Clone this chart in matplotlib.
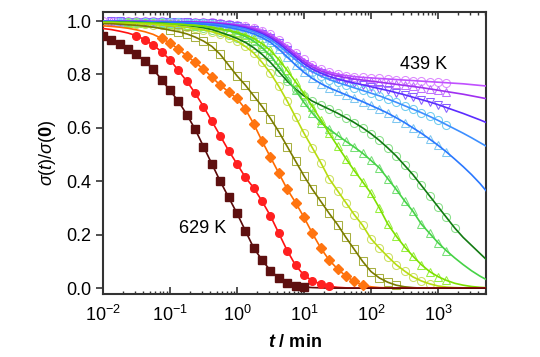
import matplotlib.pyplot as plt
import numpy as np
from matplotlib.ticker import FixedLocator, LogLocator, NullFormatter, LogFormatterMathtext

plt.rcParams['font.family'] = ['Liberation Sans', 'DejaVu Sans']
plt.rcParams['mathtext.fontset'] = 'custom'
plt.rcParams['mathtext.rm'] = 'Liberation Sans'
plt.rcParams['mathtext.it'] = 'Liberation Sans:italic'
plt.rcParams['mathtext.bf'] = 'Liberation Sans:bold'
plt.rcParams['mathtext.bfit'] = 'Liberation Sans:bold:italic'

## sampling points, log10(t / min)
log_t = [-2.0, -1.875, -1.75, -1.625, -1.5, -1.375, -1.25, -1.125,
         -1.0, -0.875, -0.75, -0.625, -0.5, -0.375, -0.25, -0.125,
         0.0, 0.125, 0.25, 0.375, 0.5, 0.625, 0.75, 0.875,
         1.0, 1.125, 1.25, 1.375, 1.5, 1.625, 1.75, 1.875,
         2.0, 2.125, 2.25, 2.375, 2.5, 2.625, 2.75, 2.875,
         3.0, 3.125, 3.25, 3.375, 3.5, 3.625, 3.75]

## sigma(t)/sigma(0), hottest first
s_629 = [0.945, 0.930, 0.915, 0.895, 0.875, 0.850, 0.820, 0.780, 0.740, 0.700, 0.650, 0.595, 0.530, 0.465, 0.400, 0.340,
         0.280, 0.215, 0.150, 0.105, 0.065, 0.038, 0.020, 0.009, 0.004, 0.002, 0.001] + [0.0] * 20
s_red = [0.972, 0.968, 0.962, 0.955, 0.945, 0.930, 0.910, 0.885, 0.855, 0.815, 0.775, 0.730, 0.680, 0.625, 0.570, 0.515,
         0.465, 0.415, 0.375, 0.325, 0.270, 0.205, 0.140, 0.085, 0.048, 0.028, 0.015, 0.007, 0.003, 0.001, 0.0, 0.0] + [0.0] * 15
s_orange = [0.982, 0.980, 0.977, 0.973, 0.967, 0.960, 0.950, 0.935, 0.918, 0.895, 0.870, 0.845, 0.820, 0.790, 0.760, 0.735,
            0.710, 0.670, 0.615, 0.550, 0.490, 0.430, 0.370, 0.320, 0.265, 0.205, 0.150, 0.105, 0.072, 0.045, 0.025, 0.012,
            0.005, 0.002, 0.001] + [0.0] * 12
s_olive = [0.990, 0.990, 0.988, 0.986, 0.984, 0.981, 0.977, 0.972, 0.966, 0.960, 0.952, 0.940, 0.925, 0.905, 0.875, 0.835,
           0.795, 0.760, 0.720, 0.680, 0.635, 0.585, 0.530, 0.475, 0.420, 0.370, 0.325, 0.280, 0.238, 0.190, 0.145, 0.100,
           0.062, 0.038, 0.022, 0.011, 0.005, 0.002] + [0.0] * 9
s_yellow = [0.993, 0.993, 0.992, 0.991, 0.990, 0.989, 0.987, 0.985, 0.983, 0.980, 0.977, 0.973, 0.968, 0.960, 0.950, 0.938,
            0.925, 0.905, 0.880, 0.845, 0.805, 0.755, 0.700, 0.640, 0.580, 0.525, 0.470, 0.410, 0.365, 0.320, 0.275, 0.235,
            0.185, 0.150, 0.118, 0.088, 0.064, 0.042, 0.027, 0.016, 0.008, 0.004, 0.002, 0.001, 0.0, 0.0, 0.0]
s_lime = [0.995, 0.995, 0.994, 0.994, 0.993, 0.992, 0.991, 0.990, 0.989, 0.988, 0.986, 0.984, 0.981, 0.976, 0.970, 0.965,
          0.958, 0.948, 0.935, 0.915, 0.890, 0.855, 0.815, 0.772, 0.728, 0.680, 0.630, 0.580, 0.532, 0.485, 0.440, 0.398,
          0.355, 0.300, 0.240, 0.195, 0.155, 0.120, 0.088, 0.062, 0.043, 0.029, 0.018, 0.011, 0.006, 0.003, 0.001]
s_green = [0.996, 0.996, 0.995, 0.995, 0.994, 0.993, 0.992, 0.991, 0.990, 0.988, 0.986, 0.983, 0.980, 0.976, 0.970, 0.964,
           0.955, 0.942, 0.925, 0.900, 0.870, 0.830, 0.785, 0.740, 0.695, 0.655, 0.620, 0.595, 0.572, 0.550, 0.528, 0.505,
           0.478, 0.450, 0.410, 0.370, 0.327, 0.288, 0.240, 0.205, 0.170, 0.140, 0.113, 0.088, 0.065, 0.045, 0.028]
s_dkgreen = [0.997, 0.997, 0.996, 0.996, 0.995, 0.994, 0.993, 0.992, 0.990, 0.987, 0.984, 0.980, 0.975, 0.968, 0.958, 0.947,
             0.935, 0.920, 0.900, 0.875, 0.845, 0.810, 0.775, 0.745, 0.720, 0.700, 0.685, 0.670, 0.655, 0.638, 0.620, 0.600,
             0.578, 0.553, 0.525, 0.495, 0.460, 0.425, 0.385, 0.345, 0.305, 0.265, 0.225, 0.190, 0.160, 0.130, 0.100]
s_blue = [0.998, 0.998, 0.998, 0.997, 0.997, 0.996, 0.996, 0.995, 0.994, 0.993, 0.992, 0.990, 0.988, 0.985, 0.981, 0.976,
          0.970, 0.962, 0.952, 0.938, 0.920, 0.895, 0.865, 0.835, 0.808, 0.785, 0.766, 0.750, 0.737, 0.724, 0.711, 0.698,
          0.684, 0.670, 0.655, 0.638, 0.620, 0.600, 0.580, 0.558, 0.535, 0.510, 0.483, 0.455, 0.425, 0.392, 0.355]
s_sky = [0.999, 0.999, 0.998, 0.998, 0.998, 0.997, 0.997, 0.996, 0.996, 0.995, 0.994, 0.993, 0.991, 0.989, 0.986, 0.982,
         0.977, 0.970, 0.960, 0.947, 0.930, 0.908, 0.882, 0.855, 0.830, 0.810, 0.794, 0.781, 0.770, 0.760, 0.750, 0.740,
         0.730, 0.720, 0.708, 0.696, 0.683, 0.670, 0.657, 0.643, 0.628, 0.612, 0.596, 0.580, 0.563, 0.545, 0.527]
s_violet = [0.999, 0.999, 0.999, 0.998, 0.998, 0.998, 0.997, 0.997, 0.996, 0.996, 0.995, 0.994, 0.993, 0.991, 0.988, 0.985,
            0.980, 0.974, 0.965, 0.953, 0.937, 0.916, 0.890, 0.865, 0.840, 0.820, 0.805, 0.793, 0.783, 0.775, 0.768, 0.761,
            0.754, 0.747, 0.740, 0.732, 0.724, 0.715, 0.706, 0.697, 0.687, 0.676, 0.665, 0.654, 0.642, 0.630, 0.617]
s_purple = [1.0, 1.0, 0.999, 0.999, 0.999, 0.999, 0.998, 0.998, 0.998, 0.997, 0.997, 0.996, 0.995, 0.993, 0.991, 0.988,
            0.984, 0.978, 0.970, 0.958, 0.943, 0.923, 0.898, 0.872, 0.848, 0.828, 0.813, 0.802, 0.794, 0.788, 0.783, 0.779,
            0.775, 0.771, 0.767, 0.763, 0.759, 0.755, 0.751, 0.746, 0.741, 0.736, 0.731, 0.726, 0.720, 0.714, 0.708]
s_439 = [1.0, 1.0, 1.0, 1.0, 0.999, 0.999, 0.999, 0.999, 0.998, 0.998, 0.997, 0.997, 0.996, 0.995, 0.993, 0.990,
         0.987, 0.982, 0.975, 0.964, 0.950, 0.930, 0.906, 0.880, 0.856, 0.836, 0.820, 0.809, 0.801, 0.796, 0.792, 0.789,
         0.787, 0.785, 0.783, 0.781, 0.779, 0.777, 0.775, 0.773, 0.771, 0.769, 0.767, 0.765, 0.762, 0.759, 0.756]

## values, line colour, marker, marker face, marker edge, first and last marked point
curves = [
    (s_439, '#c050ff', 'o', 'none', '#dd88ff', 0, 41),
    (s_purple, '#a030f0', '^', 'none', '#c070ff', 1, 41),
    (s_violet, '#5b2cff', 'v', 'none', '#8a60ff', 1, 41),
    (s_sky, '#3d8fff', 'o', 'none', '#70cdf0', 2, 41),
    (s_blue, '#2a78ff', '^', 'none', '#80c8f0', 2, 41),
    (s_dkgreen, '#127a12', 'o', 'none', '#88e088', 3, 42),
    (s_green, '#46d246', '^', 'none', '#78e078', 3, 41),
    (s_lime, '#7ee000', '^', 'none', '#98f040', 3, 41),
    (s_yellow, '#b8dc10', 'o', 'none', '#cce060', 4, 39),
    (s_olive, '#7a7a00', 's', 'none', '#a8b040', 8, 35),
    (s_orange, '#ff6a00', 'D', '#ff7410', '#ff7410', 7, 31),
    (s_red, '#ff1010', 'o', '#ff2020', '#ff2020', 4, 27),
    (s_629, '#5a0808', 's', '#5e1010', '#5e1010', 0, 24),
]

t = 10.0 ** np.array(log_t)

fig = plt.figure(figsize=(5.4, 3.57), dpi=100)
ax = fig.add_axes([0.1907, 0.1765, 0.7093, 0.79])

for vals, lc, mk, mfc, mec, a, b in curves:
    vals = np.array(vals)
    if mfc == 'none':
        ax.plot(t[a:b + 1], vals[a:b + 1], linestyle='none', marker=mk, ms=5.8,
                mfc='none', mec=mec, mew=0.75, zorder=2)
    ax.plot(t, vals, color=lc, lw=1.2, zorder=3)
    if mfc != 'none':
        ax.plot(t[a:b + 1], vals[a:b + 1], linestyle='none', marker=mk,
                ms=5.5 if mk != 'D' else 5, mfc=mfc, mec=mec, zorder=4)

ax.set_xscale('log')
ax.set_xlim(1e-2, 10 ** 3.716)
ax.set_ylim(-0.022, 1.034)

ax.xaxis.set_major_locator(LogLocator(base=10, numticks=10))
ax.xaxis.set_minor_locator(LogLocator(base=10, subs=np.arange(2, 10), numticks=20))
ax.xaxis.set_major_formatter(LogFormatterMathtext())
ax.xaxis.set_minor_formatter(NullFormatter())
ax.tick_params(axis='x', which='major', direction='in', length=5, width=1.2,
               top=True, labelsize=13, pad=8, color='#333333')
ax.tick_params(axis='x', which='minor', direction='in', length=2.5, width=1.0,
               top=True, color='#333333')

ax.yaxis.set_major_locator(FixedLocator([0.0, 0.2, 0.4, 0.6, 0.8, 1.0]))
ax.set_yticklabels(['0.0', '0.2', '0.4', '0.6', '0.8', '1.0'])
ax.tick_params(axis='y', which='major', direction='out', length=5, width=1.2,
               labelsize=13, color='#333333')

for sp in ax.spines.values():
    sp.set_linewidth(1.5)
    sp.set_color('#333333')

ax.set_ylabel(r'$\sigma(t)/\sigma(\mathbf{0})$', fontsize=13, labelpad=6)
ax.set_xlabel(r'$\boldsymbol{t}$ / min', fontsize=13, fontweight='bold', labelpad=6)

ax.text(617, 0.839, '439 K', fontsize=13, ha='center', va='center')
ax.text(0.311, 0.225, '629 K', fontsize=13, ha='center', va='center')

fig.savefig('out.png', dpi=100)
